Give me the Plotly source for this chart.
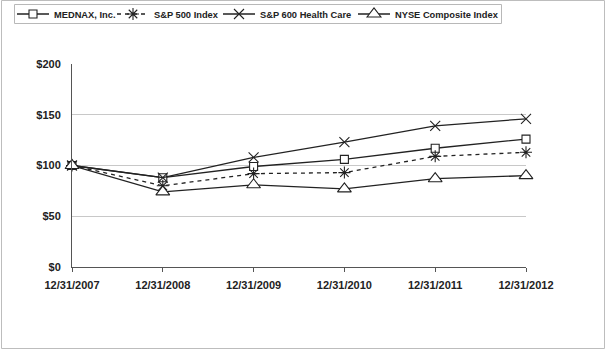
import plotly.graph_objects as go

dates = ["12/31/2007", "12/31/2008", "12/31/2009", "12/31/2010", "12/31/2011", "12/31/2012"]
mednax = [100, 88, 99, 106, 117, 126]
sp500 = [100, 80, 92, 93, 109, 113]
sp600hc = [100, 88, 108, 123, 139, 146]
nyse = [100, 74, 81, 77, 87, 90]

W, H = 606, 350
L, R, T, B = 72, 80, 64, 83
pw, ph = W - L - R, H - T - B

ink = "#222222"
IW = 32


def px2x(p):
    return (p - L) / pw


def px2y(p):
    return (H - B - p) / ph


fig = go.Figure()
series = [
    ("MEDNAX, Inc.", mednax, "square", 8, "solid", "white", 54),
    ("S&P 500 Index", sp500, "asterisk", 10, "4px,4px", ink, 154),
    ("S&P 600 Health Care", sp600hc, "x-thin", 10, "solid", ink, 260),
    ("NYSE Composite Index", nyse, "triangle-up", 12, "solid", "white", 395),
]
legend_layout = {}
for i, (name, vals, sym, sz, dash, fill, tx) in enumerate(series):
    lg = "legend" if i == 0 else f"legend{i + 1}"
    fig.add_trace(go.Scatter(
        x=dates, y=vals, name=name, mode="lines+markers",
        line=dict(color=ink, width=1.3, dash=dash),
        marker=dict(symbol=sym, size=sz, color=fill,
                    line=dict(color=ink, width=1.1)),
        cliponaxis=False, legend=lg,
    ))
    legend_layout[lg] = dict(
        orientation="h", x=px2x(tx - IW - 10), y=px2y(14),
        xanchor="left", yanchor="middle",
        borderwidth=0, bgcolor="rgba(0,0,0,0)",
        font=dict(size=9.3, family="Liberation Sans, Arial, sans-serif",
                  weight="bold", color=ink),
        itemwidth=IW,
    )

fig.update_layout(
    width=W, height=H,
    margin=dict(l=L, r=R, t=T, b=B, autoexpand=False),
    paper_bgcolor="white", plot_bgcolor="white",
    font=dict(family="Liberation Sans, Arial, sans-serif", color=ink, size=11),
    showlegend=True,
    xaxis=dict(
        type="category", range=[0, 5], showgrid=False,
        showline=True, linecolor="#555555", linewidth=1,
        ticks="outside", ticklen=4, tickcolor="#555555",
        ticklabelstandoff=4,
        tickfont=dict(size=11, weight="bold"),
    ),
    yaxis=dict(
        range=[0, 200], dtick=50, tickprefix="$",
        showgrid=True, gridcolor="#c8c8c8", gridwidth=1,
        showline=True, linecolor="#555555", linewidth=1,
        zeroline=False, ticks="", ticklabelstandoff=8,
        tickfont=dict(size=11, weight="bold"),
    ),
    shapes=[
        dict(type="rect", xref="paper", yref="paper",
             x0=px2x(1.5), x1=px2x(604.5), y0=px2y(348.5), y1=px2y(0.5),
             line=dict(color="#bdbdbd", width=1), layer="below"),
        dict(type="rect", xref="paper", yref="paper",
             x0=px2x(14.5), x1=px2x(501.5), y0=px2y(23.5), y1=px2y(4.5),
             line=dict(color="#b8b8b8", width=1), layer="below"),
    ],
    **legend_layout,
)

fig.write_html("out.html")
